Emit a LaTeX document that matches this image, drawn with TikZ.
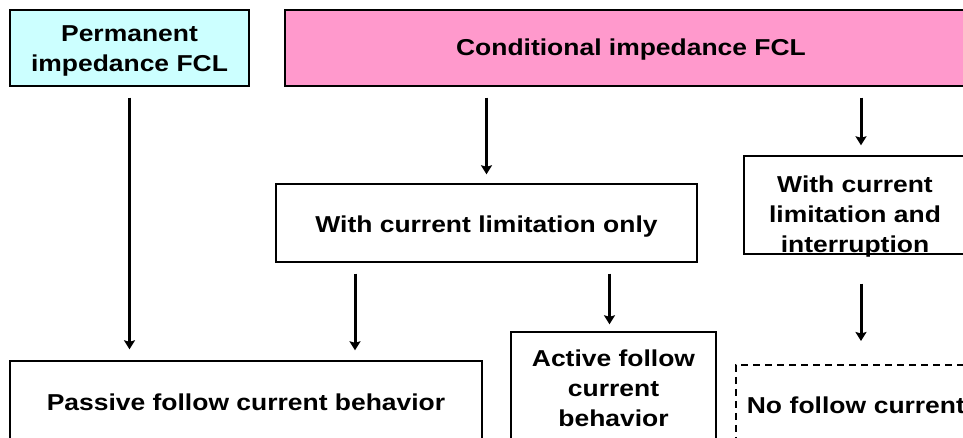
\documentclass[tikz,border=0pt]{standalone}
\usepackage{fontspec}
\setmainfont{Liberation Sans}[FakeStretch=1.15]
\usepackage{xcolor}
\usepackage{tikz}
\usetikzlibrary{arrows.meta}
\definecolor{permcyan}{HTML}{CCFFFF}
\definecolor{condpink}{HTML}{FF99CC}
\newcommand{\lowstrut}[1]{\rule{0pt}{#1}}
\newcommand{\nodepth}[1]{\raisebox{0pt}[\height][0pt]{#1}}

\begin{document}
\begin{tikzpicture}[x=1pt,y=-1pt]
    \tikzstyle{box}=[draw,line width=1.4pt,rectangle,align=center,inner sep=0pt,
        font=\fontsize{23}{30}\selectfont\bfseries]
    \tikzstyle{arr}=[line width=3pt,-{Stealth[length=9pt,width=11pt,inset=1.5pt]}]
\clip (0,0) rectangle (963,437);

\node[box,fill=permcyan,minimum width=239pt,minimum height=76pt] (perm) at (129.5,48)
    {\lowstrut{22pt}Permanent\\impedance FCL};
\node[box,fill=condpink,minimum width=692pt,minimum height=76pt] (cond) at (631,48)
    {\lowstrut{20pt}Conditional impedance FCL};

\node[box,minimum width=421pt,minimum height=78pt] (lim) at (486.5,223)
    {\lowstrut{23pt}With current limitation only};
\node[box,minimum width=222pt,minimum height=98pt] (intr) at (855,205)
    {\lowstrut{34.5pt}With current\\limitation and\\\nodepth{interruption}};

\node[box,minimum width=472pt,minimum height=83pt] (passive) at (246,402.5)
    {Passive follow current behavior};
\node[box,minimum width=205pt,minimum height=112pt] (active) at (613.5,388)
    {Active follow\\current\\behavior};
\node[box,line width=1.6pt,dash pattern=on 7pt off 5pt,anchor=north west,text width=250pt,align=left,
    inner xsep=11pt,minimum height=80pt] (nofol) at (735,364)
    {No follow current};

\draw[arr,shorten <=11pt,shorten >=11pt] (perm.south) -- (perm.south |- passive.north);
\draw[arr,shorten <=11pt,shorten >=9pt] (lim.north |- cond.south) -- (lim.north);
\draw[arr,shorten <=11pt,shorten >=10pt] ([xshift=6pt]intr.north |- cond.south) -- ([xshift=6pt]intr.north);
\draw[arr,shorten <=11pt,shorten >=10pt] ([xshift=-131.5pt]lim.south) -- ([xshift=-131.5pt]lim.south |- passive.north);
\draw[arr,shorten <=11pt,shorten >=7pt] ([xshift=-4pt]active.north |- lim.south) -- ([xshift=-4pt]active.north);
\draw[arr,shorten <=29pt,shorten >=23pt] ([xshift=6pt]intr.south) -- ([xshift=6pt]intr.south |- nofol.north);
    ;
\end{tikzpicture}
\end{document}
